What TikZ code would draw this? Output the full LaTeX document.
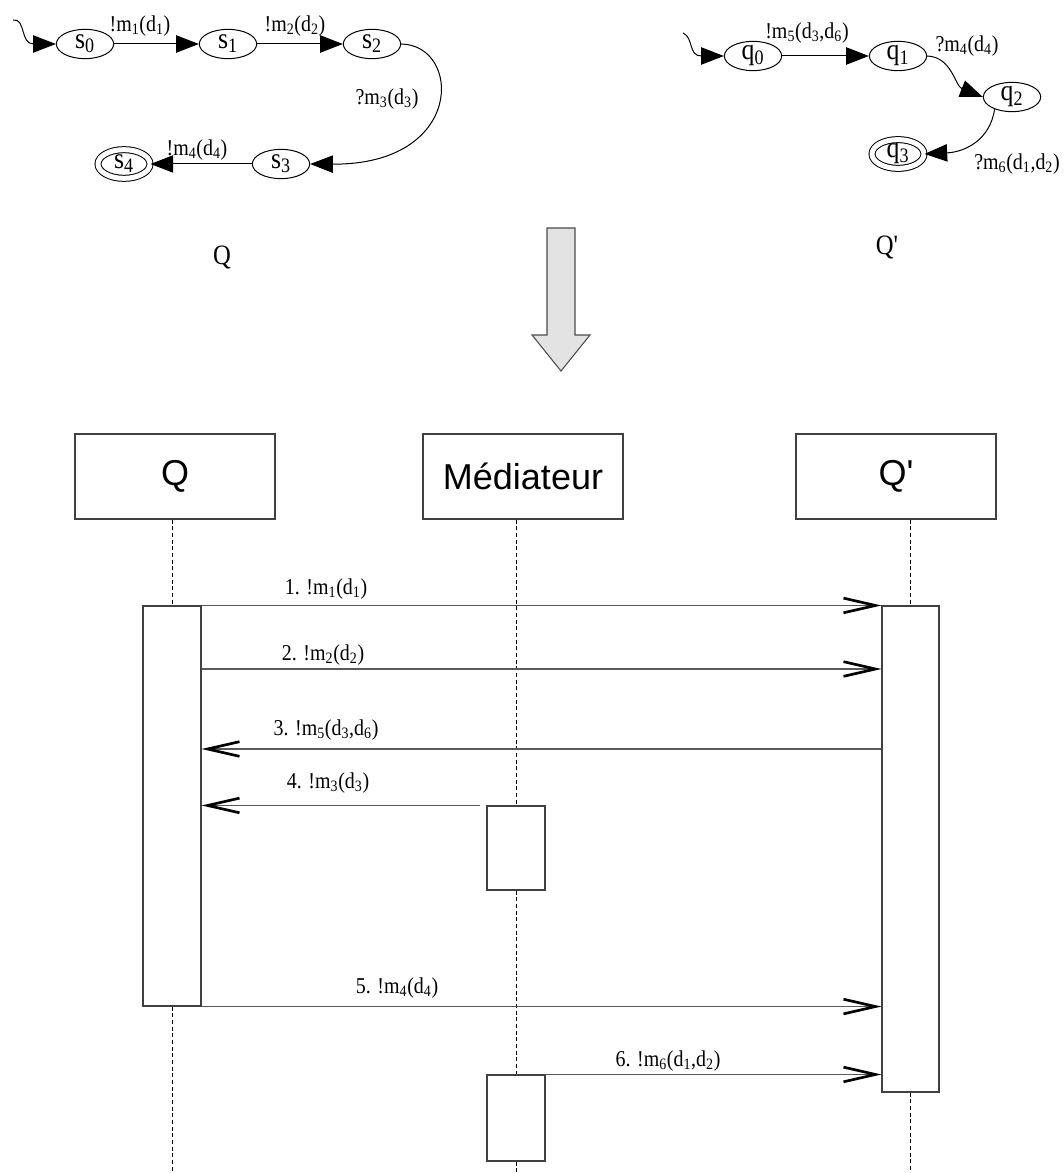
\documentclass[tikz,border=0pt]{standalone}
\usepackage{fontspec}
\setmainfont{Liberation Serif}[Ligatures=TeXOff, FakeStretch=0.88]
\setsansfont{Liberation Sans}[Ligatures=TeXOff]
\usetikzlibrary{arrows.meta,shapes.geometric}
\tikzset{
	etat/.style={draw, ellipse, line width=0.75pt, minimum width=43pt, minimum height=22pt, inner sep=0pt, font=\fontsize{22}{24}\selectfont},
	etatfinal/.style={etat, double, double distance=3.75pt, minimum width=39pt, minimum height=21.5pt},
	trans/.style={line width=0.75pt, -{Triangle[length=17pt,width=13pt]}},
	lbl/.style={inner sep=0pt, font=\fontsize{17}{19}\selectfont},
	acteur/.style={draw=black!75, line width=0.8pt, minimum width=150pt, minimum height=63.75pt, font=\sffamily\fontsize{27}{30}\selectfont},
	activ/.style={draw=black!75, line width=0.8pt, fill=white, minimum width=43.5pt, inner sep=0pt},
	msg/.style={black!65, line width=1pt, -{Straight Barb[length=24pt,width=11pt,line width=2pt,color=black]}},
	vie/.style={line width=0.6pt, dash pattern=on 3pt off 2pt}
}

\begin{document}
\begin{tikzpicture}[x=0.75pt, y=-0.75pt]
			%%%%% START %%%%%
			\useasboundingbox (0,0) rectangle (1063,1173);
			
			% automate Q
			\node[etat] (s0) at (85,44) {s\textsubscript{0}};
			\node[etat] (s1) at (228,44) {s\textsubscript{1}};
			\node[etat] (s2) at (372,44) {s\textsubscript{2}};
			\node[etat] (s3) at (281,164) {s\textsubscript{3}};
			\node[etatfinal] (s4) at (124,164) {s\textsubscript{4}};
			
			\draw[trans] (13,20) .. controls (26,18) and (20,44) .. (s0.west);
			\draw[trans] (s0) -- (s1);
			\draw[trans] (s1) -- (s2);
			\draw[trans] (s2.east) .. controls (462,45) and (465,165) .. (s3.east);
			\draw[trans] (s3) -- (s4);
			
			\node[lbl] (l01) at (140,26) {!m\textsubscript{1}(d\textsubscript{1})};
			\node[lbl] (l12) at (295,26) {!m\textsubscript{2}(d\textsubscript{2})};
			\node[lbl] (l23) at (387,99) {?m\textsubscript{3}(d\textsubscript{3})};
			\node[lbl] (l34) at (197,150) {!m\textsubscript{4}(d\textsubscript{4})};
			
			\node[font=\fontsize{21}{23}\selectfont] (nomQ) at (222,257) {Q};
			
			% automate Q'
			\node[etat] (q0) at (753,56) {q\textsubscript{0}};
			\node[etat] (q1) at (898,56) {q\textsubscript{1}};
			\node[etat] (q2) at (1012,97) {q\textsubscript{2}};
			\node[etatfinal] (q3) at (898,154) {q\textsubscript{3}};
			
			\draw[trans] (683,33) .. controls (694,38) and (688,56) .. (q0.west);
			\draw[trans] (q0) -- (q1);
			\draw[trans] (q1.east) .. controls (952,57) and (955,86) .. (q2.west);
			\draw[trans] (q2.215) .. controls (990,140) and (965,152) .. (q3.east);
			
			\node[lbl] (p01) at (807,33) {!m\textsubscript{5}(d\textsubscript{3},d\textsubscript{6})};
			\node[lbl] (p12) at (967,46) {?m\textsubscript{4}(d\textsubscript{4})};
			\node[lbl] (p23) at (1017,164) {?m\textsubscript{6}(d\textsubscript{1},d\textsubscript{2})};
			
			\node[font=\fontsize{21}{23}\selectfont] (nomQp) at (887,247) {Q'};
			
			% fleche
			\draw[fill=black!11, draw=black!70, line width=0.8pt] (547,228) -- (575,228) -- (575,335) -- (590,335) -- (561,371) -- (532,335) -- (547,335) -- cycle;
			
			% diagramme de sequence
			\node[acteur] (hQ) at (175,476.5) {Q};
			\node[acteur] (hM) at (523,476.5) {Médiateur};
			\node[acteur] (hQp) at (896,476.5) {Q'};
			
			\coordinate (bas) at (0,1173);
			\coordinate (y2) at (0,669);
			\coordinate (y3) at (0,749);
			
			\node[activ, minimum height=300pt] (aQ) at (172,806) {};
			\node[activ, minimum width=42.75pt, minimum height=364.5pt] (aQp) at (910.5,849) {};
			\node[activ, minimum height=63pt] (aM1) at (516,848) {};
			\node[activ, minimum height=64.5pt] (aM2) at (516,1118) {};
			
			\draw[vie] (hQ.south -| aQ) -- (aQ.north);
			\draw[vie] (aQ.south) -- (aQ |- bas);
			\draw[vie] (hM.south -| aM1) -- (aM1.north);
			\draw[vie] (aM1.south) -- (aM2.north);
			\draw[vie] (aM2.south) -- (aM2 |- bas);
			\draw[vie] (hQp.south -| aQp) -- (aQp.north);
			\draw[vie] (aQp.south) -- (aQp |- bas);
			
			\draw[msg] (aQ.north east) -- (aQp.north west);
			\draw[msg] (aQ.east |- y2) -- (aQp.west |- y2);
			\draw[msg] (aQp.west |- y3) -- (aQ.east |- y3);
			\draw[msg] ([xshift=-4.5pt]aM1.north west) -- (aQ.east |- aM1.north);
			\draw[msg] (aQ.south east) -- (aQp.west |- aQ.south);
			\draw[msg] (aM2.north east) -- (aQp.west |- aM2.north);
			
			\node[lbl] (m1) at (326,589) {1. !m\textsubscript{1}(d\textsubscript{1})};
			\node[lbl] (m2) at (323,655) {2. !m\textsubscript{2}(d\textsubscript{2})};
			\node[lbl] (m3) at (326,730) {3. !m\textsubscript{5}(d\textsubscript{3},d\textsubscript{6})};
			\node[lbl] (m4) at (328,783) {4. !m\textsubscript{3}(d\textsubscript{3})};
			\node[lbl] (m5) at (397,988) {5. !m\textsubscript{4}(d\textsubscript{4})};
			\node[lbl] (m6) at (668,1061) {6. !m\textsubscript{6}(d\textsubscript{1},d\textsubscript{2})};
			
			%%%%% END %%%%%
\end{tikzpicture}
\end{document}
